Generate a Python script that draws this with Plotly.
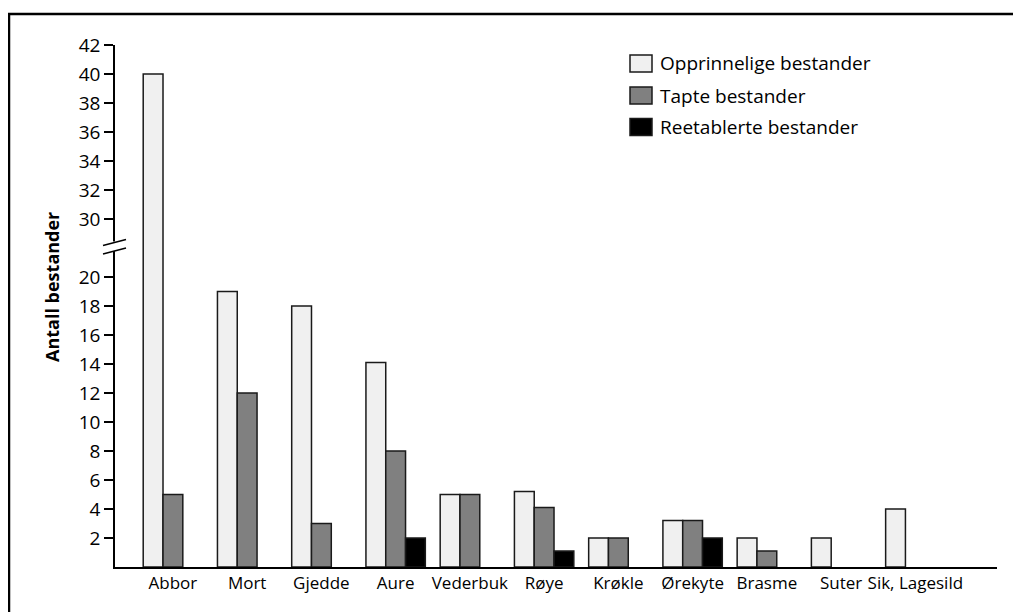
import plotly.graph_objects as go

categories = ["Abbor", "Mort", "Gjedde", "Aure", "Vederbuk", "Røye", "Krøkle",
              "Ørekyte", "Brasme", "Suter", "Sik, Lagesild"]
opprinnelige = [40, 19, 18, 14.1, 5, 5.2, 2, 3.2, 2, 2, 4]
tapte = [5, 12, 3, 8, 5, 4.1, 2, 3.2, 1.1, None, None]
reetablerte = [None, None, None, 2, None, 1.1, None, 2, None, None, None]
tick_labels = [2, 4, 6, 8, 10, 12, 14, 16, 18, 20, 30, 32, 34, 36, 38, 40, 42]

series_names = ["Opprinnelige bestander", "Tapte bestander", "Reetablerte bestander"]
series_colors = ["#f0f0f0", "#808080", "#000000"]

BREAK_LOW, BREAK_HIGH = 20, 30
BREAK_PLOT = 24  # plotted position of value 30 on the broken axis


def plotted(v):
    if v is None:
        return None
    return v if v <= BREAK_LOW else v - (BREAK_HIGH - BREAK_PLOT)


# Page geometry (pixels in the browser window); the page body has an 8px margin
OFF = 8
W, H = 1021 - OFF, 612 - OFF
AX_L, AX_R, AX_T, AX_B = 115, 997, 45, 567   # plot area in page pixels
L, R, T, B = AX_L - OFF, W - (AX_R - OFF), AX_T - OFF, H - (AX_B - OFF)
PW, PH = AX_R - AX_L, AX_B - AX_T


def px(x):
    return (x - AX_L) / PW


def py(y):
    return (AX_B - y) / PH


FONT = "Open Sans"
fig = go.Figure()
for name, vals, col in zip(series_names, [opprinnelige, tapte, reetablerte], series_colors):
    fig.add_trace(go.Bar(
        x=list(range(len(categories))),
        y=[plotted(v) for v in vals],
        name=name,
        marker=dict(color=col, line=dict(color="#1a1a1a", width=1.5)),
        showlegend=False,
    ))

fig.update_layout(
    width=W, height=H,
    margin=dict(l=L, r=R, t=T, b=B, pad=0),
    paper_bgcolor="white", plot_bgcolor="white",
    barmode="group", bargap=0.2, bargroupgap=0,
    font=dict(family=FONT, size=18, color="black"),
    xaxis=dict(
        tickmode="array", tickvals=list(range(len(categories))), ticktext=categories,
        range=[-0.78, 11.1], showline=True, linecolor="black", linewidth=1.5,
        ticks="", showgrid=False, zeroline=False, tickfont=dict(size=17),
    ),
    yaxis=dict(
        tickmode="array", tickvals=[plotted(v) for v in tick_labels],
        ticktext=[str(v) for v in tick_labels],
        range=[0, 36], showline=True, linecolor="black", linewidth=1.5,
        ticks="outside", ticklen=9, tickwidth=1.5, tickcolor="black",
        showgrid=False, zeroline=False, tickfont=dict(size=19),
    ),
)

shapes = []
# outer frame (top and left edges)
shapes.append(dict(type="line", xref="paper", yref="paper", x0=px(8), x1=px(1040),
                   y0=py(14), y1=py(14), line=dict(color="black", width=2.5)))
shapes.append(dict(type="line", xref="paper", yref="paper", x0=px(9), x1=px(9),
                   y0=py(13), y1=py(630), line=dict(color="black", width=2.5)))
# axis break: white gap and two slanted strokes
shapes.append(dict(type="rect", xref="paper", yref="paper", x0=px(111), x1=px(119),
                   y0=py(251), y1=py(241.5), fillcolor="white", line=dict(width=0)))
shapes.append(dict(type="line", xref="paper", yref="paper", x0=px(103), x1=px(126),
                   y0=py(245.5), y1=py(239.5), line=dict(color="black", width=1.5)))
shapes.append(dict(type="line", xref="paper", yref="paper", x0=px(103), x1=px(126),
                   y0=py(254), y1=py(248), line=dict(color="black", width=1.5)))

annotations = []
# legend
leg_rows = [63.5, 95.5, 127]
for name, col, yc in zip(series_names, series_colors, leg_rows):
    shapes.append(dict(type="rect", xref="paper", yref="paper", x0=px(630), x1=px(652),
                       y0=py(yc + 8.5), y1=py(yc - 8.5), fillcolor=col,
                       line=dict(color="#1a1a1a", width=1.5)))
    annotations.append(dict(xref="paper", yref="paper", x=px(658), y=py(yc), text=name,
                            showarrow=False, xanchor="left", yanchor="middle",
                            font=dict(size=19, family=FONT)))
# y-axis title
annotations.append(dict(xref="paper", yref="paper", x=px(52), y=py(287),
                        text="<b>Antall bestander</b>", textangle=-90, showarrow=False,
                        xanchor="center", yanchor="middle", font=dict(size=18, family=FONT)))

fig.update_layout(shapes=shapes, annotations=annotations)
fig.write_html("out.html")
